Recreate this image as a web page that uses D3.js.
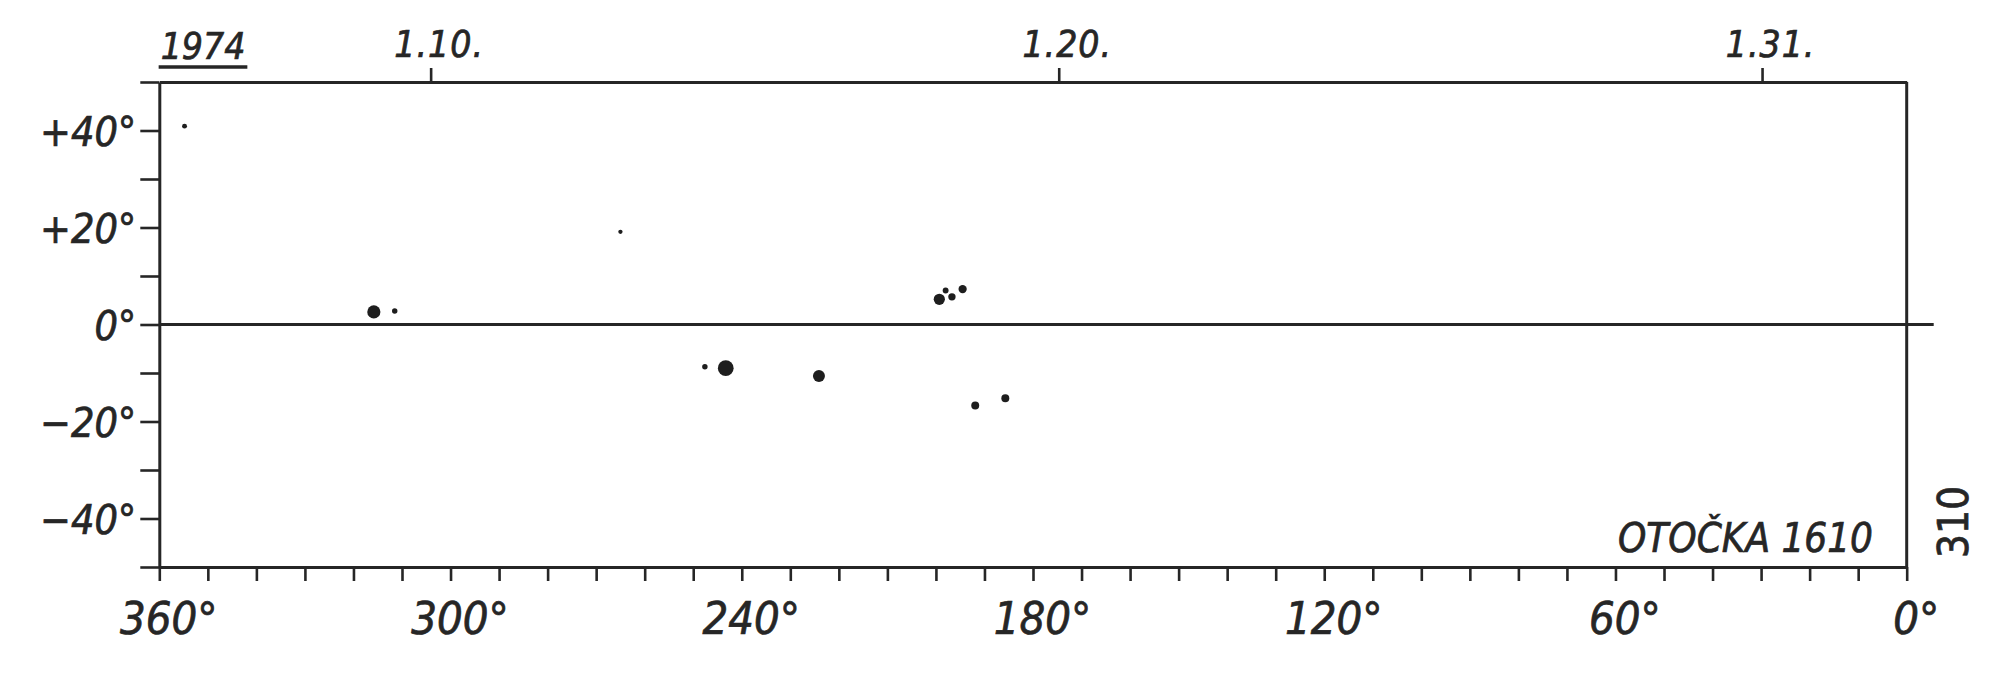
<!DOCTYPE html>
<html>
<head>
<meta charset="utf-8">
<script src="https://cdn.jsdelivr.net/npm/d3@7"></script>
<style>
  html, body { margin: 0; padding: 0; background: #ffffff; }
  svg { display: block; }
  .lbl { font-family: "Liberation Sans Narrow", "DejaVu Sans Condensed", "Liberation Sans", sans-serif; fill: #262626; stroke: #262626; stroke-width: 0.7px; }
</style>
</head>
<body>
<svg id="chart" width="2000" height="679"></svg>
<script>
// ---- data ----
const yearLabel = "1974";
const rotationLabel = "OTOČKA 1610";
const pageLabel = "310";

const dateLabels = ["1.10.", "1.20.", "1.31."];
const dateLongitudes = [304.1, 174.7, 29.8];

const lonTicks = [360, 350, 340, 330, 320, 310, 300, 290, 280, 270, 260, 250, 240, 230, 220, 210, 200, 190, 180, 170, 160, 150, 140, 130, 120, 110, 100, 90, 80, 70, 60, 50, 40, 30, 20, 10, 0];
const lonLabeled = [360, 300, 240, 180, 120, 60, 0];
const latTicks = [50, 40, 30, 20, 10, 0, -10, -20, -30, -40, -50];
const latLabeled = [40, 20, 0, -20, -40];
const latLabelText = ["+40°", "+20°", "0°", "−20°", "−40°"];

const spotLongitude = [354.8, 315.8, 311.5, 265.0, 247.6, 243.3, 224.1, 199.3, 198.0, 196.7, 194.5, 191.9, 185.7];
const spotLatitude  = [40.9, 2.6, 2.8, 19.1, -8.7, -9.0, -10.6, 5.2, 7.0, 5.7, 7.3, -16.7, -15.2];
const spotArea      = [3, 36, 4, 2, 4, 54, 29, 25, 5, 9, 12, 11, 11];

// ---- drawing ----
const ink = "#262626";
const svg = d3.select("#chart");

const x = d3.scaleLinear().domain([360, 0]).range([159.3, 1906.7]);
const y = d3.scaleLinear().domain([-50, 50]).range([567, 82]);
const r = d3.scaleSqrt().domain([0, 50]).range([0.8, 7.6]);

function styleAxis(g, width) {
  g.selectAll("path.domain").attr("stroke", ink).attr("stroke-width", width);
  g.selectAll(".tick line").attr("stroke", ink).attr("stroke-width", 2.6);
}

// left axis
const gLeft = svg.append("g").attr("transform", `translate(${x(360)},0)`)
  .call(d3.axisLeft(y).tickValues(latTicks).tickSize(19).tickSizeOuter(0)
    .tickFormat(d => { const i = latLabeled.indexOf(d); return i >= 0 ? latLabelText[i] : ""; }));
styleAxis(gLeft, 3);
gLeft.selectAll(".tick text").attr("class", "lbl")
  .attr("x", -23).attr("dy", "0.36em")
  .style("font-size", "41px").style("font-style", "italic");

// bottom axis
const gBottom = svg.append("g").attr("transform", `translate(0,${y(-50)})`)
  .call(d3.axisBottom(x).tickValues(lonTicks).tickSize(14).tickSizeOuter(0)
    .tickFormat(d => lonLabeled.includes(d) ? d + "°" : ""));
styleAxis(gBottom, 3);
gBottom.selectAll(".tick text").attr("class", "lbl")
  .attr("y", 67).attr("dy", 0).attr("dx", 9)
  .style("font-size", "45px").style("font-style", "italic");

// top axis (dates) = top border
const gTop = svg.append("g").attr("transform", `translate(0,${y(50)})`)
  .call(d3.axisTop(x).tickValues(dateLongitudes).tickSize(14).tickSizeOuter(0)
    .tickFormat((d, i) => dateLabels[i]));
styleAxis(gTop, 3);
gTop.selectAll(".tick text").attr("class", "lbl")
  .attr("y", -25).attr("dy", 0).attr("dx", 8)
  .style("font-size", "37px").style("font-style", "italic").style("letter-spacing", "1px");

// right border
svg.append("line")
  .attr("x1", x(0)).attr("x2", x(0)).attr("y1", y(50)).attr("y2", y(-50))
  .attr("stroke", ink).attr("stroke-width", 3);

// equator line
svg.append("line")
  .attr("x1", x(360)).attr("x2", x(0) + 27).attr("y1", y(0)).attr("y2", y(0))
  .attr("stroke", ink).attr("stroke-width", 3);

// year label, underlined
const yearText = svg.append("text").attr("class", "lbl")
  .attr("x", 203).attr("y", 59).attr("text-anchor", "middle")
  .style("font-size", "37px").style("font-style", "italic")
  .text(yearLabel);
const bb = yearText.node().getBBox();
svg.append("line")
  .attr("x1", bb.x - 2).attr("x2", bb.x + bb.width + 2).attr("y1", 67).attr("y2", 67)
  .attr("stroke", ink).attr("stroke-width", 3.5);

// rotation label
svg.append("text").attr("class", "lbl")
  .attr("x", 1873).attr("y", 552).attr("text-anchor", "end")
  .style("font-size", "40px").style("font-style", "italic")
  .text(rotationLabel);

// page number, rotated
svg.append("text").attr("class", "lbl")
  .attr("transform", "translate(1968,522) rotate(-90)")
  .attr("text-anchor", "middle")
  .style("font-size", "42px")
  .text(pageLabel);

// sunspots
const spots = spotLongitude.map((lon, i) => ({ lon, lat: spotLatitude[i], area: spotArea[i] }));
svg.append("g").selectAll("circle").data(spots).join("circle")
  .attr("cx", d => x(d.lon)).attr("cy", d => y(d.lat)).attr("r", d => r(d.area))
  .attr("fill", "#1e1e1e");
</script>
</body>
</html>
